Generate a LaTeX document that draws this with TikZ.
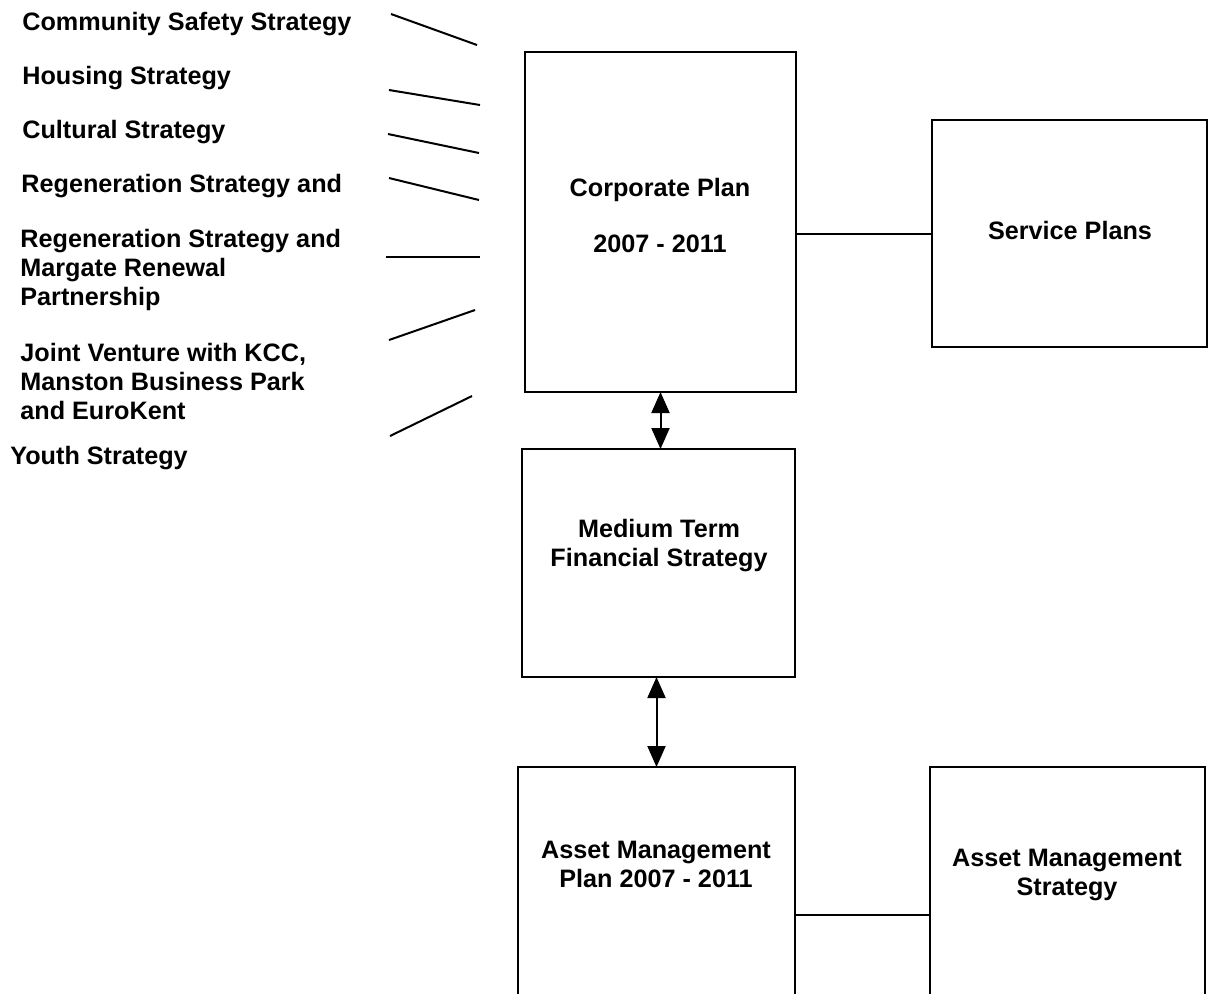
\documentclass[tikz,border=0pt]{standalone}
\usepackage{fontspec}
\setmainfont{Liberation Sans}
\usetikzlibrary{arrows.meta,positioning,calc}
\tikzstyle{link}   =[line width=1pt]
\tikzstyle{dblarrow}=[line width=1pt,
                    {Triangle[width=9pt,length=10.5pt]}-{Triangle[width=9pt,length=10.5pt]}]
\tikzstyle{planbox}=[draw, line width=0.9pt, inner sep=0pt,
                    outer sep=0pt, rectangle]
\tikzstyle{lbl}    =[font=\fontsize{12.6pt}{14.5pt}\selectfont\bfseries,
                    inner sep=0pt, anchor=west, align=left, yshift=-1pt]
\tikzstyle{boxtxt} =[font=\fontsize{12.6pt}{14.5pt}\selectfont\bfseries,
                    inner sep=0pt, align=center, yshift=-1pt]

\begin{document}
\begin{tikzpicture}[x=0.5pt, y=-0.5pt]
    \useasboundingbox (0,0) rectangle (1208,993);
    \clip (0,0) rectangle (1208,993);
    % strategies feeding the corporate plan
    \node[lbl] (css)  at (22,22)  {Community Safety Strategy};
    \node[lbl] (hs)   at (22,76)  {Housing Strategy};
    \node[lbl] (cs)   at (22,130) {Cultural Strategy};
    \node[lbl] (rs)   at (21,184) {Regeneration Strategy and};
    \node[lbl] (rmr)  at (20,268) {Regeneration Strategy and\\Margate Renewal\\Partnership};
    \node[lbl] (jv)   at (20,379) {Joint Venture with KCC,\\Manston Business Park\\and EuroKent};
    \node[lbl] (ys)   at (10,456) {Youth Strategy};

    \foreach \xa/\ya/\xb/\yb [count=\i] in {391/14/477/45, 389/90/480/105,
            388/134/479/153, 389/178/479/200, 386/257/480/257,
            389/340/475/310, 390/436/472/396}{
        \coordinate (s\i) at (\xa,\ya);
        \coordinate (e\i) at (\xb,\yb);
        \draw[link] (s\i) -- (e\i);
    }

    % boxes
    \node[planbox, minimum width=135.5pt, minimum height=170pt] (corp) at (660.5,222) {};
    \node[boxtxt] (corptxt) at (660,213) {Corporate Plan\\[13.5pt]2007 - 2011};
    \node[planbox, minimum width=137.5pt, minimum height=113.5pt] (serv) at (1069.5,233.5) {};
    \node[boxtxt] (servtxt) at (1070,228) {Service Plans};
    \node[planbox, minimum width=136.5pt, minimum height=114pt] (mtfs) at (658.5,563) {};
    \node[boxtxt] (mtfstxt) at (659,543.5) {Medium Term\\Financial Strategy};
    \node[planbox, minimum width=138.5pt, minimum height=148pt] (amp) at (656.5,915) {};
    \node[boxtxt] (amptxt) at (656,862.5) {Asset Management\\Plan 2007 - 2011};
    \node[planbox, minimum width=137.5pt, minimum height=148pt] (ams) at (1067.5,915) {};
    \node[boxtxt] (amstxt) at (1067,873) {Asset Management\\Strategy};

    % connectors
    \draw[link] (serv.west -| corp.east) -- (serv.west);
    \draw[dblarrow] (corp.south) -- (corp.south |- mtfs.north);
    \draw[dblarrow] (mtfs.south -| amp.north) -- (amp.north);
    \draw[link] (amp.east) -- (ams.west);
\end{tikzpicture}
\end{document}
